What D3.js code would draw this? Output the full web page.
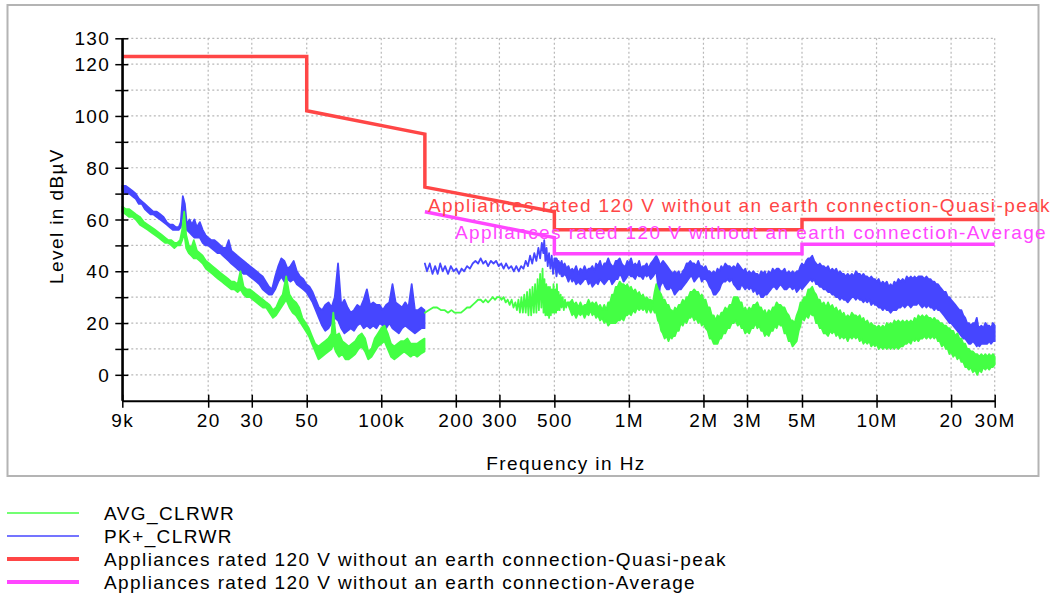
<!DOCTYPE html>
<html>
<head>
<meta charset="utf-8">
<script src="https://cdn.jsdelivr.net/npm/d3@7"></script>
<style>
  html, body { margin: 0; padding: 0; background: #fff; }
  svg text { font-family: "Liberation Sans", Arial, sans-serif; font-size: 19px; letter-spacing: 1.4px; fill: #000; }
</style>
</head>
<body>
<div id="chart"></div>
<script>
// readings: [frequency in kHz, low dBuV, high dBuV] (high omitted = single value)
const avgLow = [
  [9.0,63,65],[9.3,62,64],[9.6,61,64],[9.9,61,63],[10.2,60,62],[10.6,58,61],[11.0,57,59],[11.4,56,58],[11.8,55,57],[12.2,54,56],
  [12.6,53,55],[13.0,52,54],[13.4,51,53],[13.8,51,52],[14.2,50,52],[14.6,49,51],[15.0,50,51],[15.4,50,52],[15.7,52,56],[16.0,55,63],
  [16.3,49,54],[16.7,47,50],[17.1,46,49],[17.5,45,52],[18.0,45,48],[18.5,44,47],[19.0,43,46],[19.6,41,44],[20.2,40,43],[20.8,39,42],
  [21.4,38,41],[22.0,37,40],[22.7,36,39],[23.4,35,38],[24.1,34,37],[24.8,33,36],[25.5,33,36],[26.3,32,35],[27.0,33,40],[27.8,31,34],
  [28.6,30,33],[29.5,30,33],[30.4,29,32],[31.3,28,31],[32.3,27,30],[33.3,26,29],[34.3,26,28],[35.4,24,27],[36.5,22,25],[37.6,23,26],
  [38.8,25,29],[40.0,27,31],[41.3,29,38],[42.6,26,31],[43.9,24,29],[45.2,23,28],[46.6,21,26],[48.0,19,22],[49.5,17,20],[51.0,15,18],
  [52.5,12,15],[54.1,9,12],[55.8,6,11],[57.5,7,12],[59.3,8,13],[61.1,9,14],[63.0,10,16],[64.0,12,24],[65.5,9,15],[67.5,7,16],
  [69.6,8,13],[71.7,6,12],[73.9,6,11],[76.2,7,12],[78.5,8,13],[80.9,10,15],[83.4,11,16],[86.0,9,14],[88.6,6,9],[91.3,7,10],
  [94.1,9,14],[97.0,11,16],[100,12,18],[103,13,19],[106.2,10,16],[109.5,7,12],[112.9,6,11],[116.4,7,12],[120,8,13],[123.7,9,13],
  [127.5,8,14],[131.4,7,12],[135.4,8,12],[139.6,7,12],[143.9,8,13],[149.5,9,14]
];
const pkLow = [
  [9.0,71,73],[9.3,70,73],[9.6,70,72],[9.9,69,71],[10.2,68,70],[10.5,66,68],[10.8,66,67],[11.1,64,66],[11.4,63,65],[11.7,62,64],
  [12.0,62,63],[12.4,61,63],[12.8,60,62],[13.2,59,61],[13.6,58,59],[14.0,57,58],[14.4,56,58],[14.8,56,57],[15.2,56,57],[15.5,57,59],
  [15.8,62,69],[16.1,60,66],[16.4,56,58],[16.8,55,60],[17.2,54,58],[17.6,53,60],[18.0,53,57],[18.5,53,59],[19.0,51,56],[19.5,50,54],
  [20.0,50,53],[20.6,49,52],[21.2,48,52],[21.8,47,51],[22.4,47,50],[23.0,46,49],[23.6,45,49],[24.2,44,52],[24.8,43,48],[25.5,42,47],
  [26.2,41,46],[27.0,40,45],[27.8,39,44],[28.6,39,43],[29.5,38,42],[30.4,37,41],[31.3,36,40],[32.2,35,39],[33.2,33,38],[34.2,32,36],
  [35.2,31,34],[36.2,31,33],[37.3,33,38],[38.4,36,42],[39.5,38,45],[40.6,36,44],[41.8,37,41],[43.0,36,42],[44.3,37,44],[45.6,35,40],
  [47.0,34,38],[48.4,33,37],[49.8,32,35],[51.3,30,34],[52.8,28,32],[54.4,25,29],[56.0,22,26],[57.7,19,25],[59.4,17,27],[61.2,18,28],
  [63.0,20,26],[64.9,22,30],[66.9,21,43],[68.9,18,27],[71.0,16,29],[73.1,17,26],[75.3,18,24],[77.6,17,25],[80.0,19,27],[82.4,20,26],
  [84.9,18,29],[87.5,19,33],[90.1,18,27],[92.8,19,28],[95.6,18,27],[98.5,20,27],[101.5,19,25],[104.6,18,27],[107.8,20,28],[111,18,35],
  [114.3,17,28],[117.8,16,27],[121.3,18,26],[125,19,28],[128.8,18,26],[132.7,17,35],[136.7,16,25],[140.8,17,25],[145,18,26],[149.5,18,25]
];
const avgHigh = [
  [150,24],[156,25],[162,26],[168,26],[174,25],[180,25],[186,24],[192,25],[198,24],[204,24],[210,24],[216,25],[222,26],[228,26],
  [234,27],[240,28],[246,29],[252,29],[258,28],[264,29],[270,28],[276,29],[282,30],[288,29],[294,30],[300,30],[306,29],[312,30],
  [318,28],[324,29],[330,27],[336,29],[342,26],[348,28],[353,25],[358,29],[363,24],[368,30],[373,24],[378,31],[383,24],[388,32],
  [393,23],[398,33],[403,23],[408,34],[413,24],[418,35],[423,24],[428,37],[433,25],[438,39],[443,26],[448,41],[452,24],[456,37],
  [460,23],[464,35],[468,23],[472,34],[476,22],[480,34],[484,23],[488,33],[492,24],[496,35],[500,24],[504,33],[508,24],[512,35],
  [516,25],[520,32],[525,25],[530,31],[535,26],[540,30],[546,25],[552,29],[558,26],[564,28],
  [580,25,28],[590,23,29],[600,24,27],[612,22,28],[625,24,26],[637,23,28],[650,24,26],[662,22,27],[675,24,27],[687,23,29],
  [700,25,27],[712,23,28],[725,24,27],[737,22,28],[750,23,26],[765,21,27],[780,22,25],[795,20,27],[810,21,25],[825,19,28],
  [840,20,28],[855,20,31],[870,20,31],[885,20,34],[900,21,34],[918,21,36],[935,22,35],[952,21,35],[970,23,34],[985,23,35],
  [1000,24,33],[1020,23,34],[1040,25,32],[1060,24,33],[1080,26,31],[1100,25,32],[1120,26,30],[1140,25,31],[1160,26,29],[1180,24,30],
  [1200,26,29],[1225,24,29],[1250,26,28],[1270,24,32],[1290,24,35],[1310,21,33],[1330,20,32],[1350,17,31],[1370,16,29],[1395,14,29],
  [1420,15,27],[1445,13,27],[1470,15,25],[1490,14,25],[1510,15,24],[1535,15,26],[1560,17,25],[1590,17,27],[1620,20,27],[1650,19,29],
  [1680,21,28],[1710,20,30],[1740,22,30],[1770,22,32],[1800,23,32],[1835,21,33],[1870,22,32],[1905,20,32],[1940,21,30],[1970,19,31],
  [2000,20,29],[2040,18,29],[2080,17,26],[2120,14,26],[2160,14,23],[2200,12,23],[2240,12,21],[2280,12,23],[2320,14,22],[2360,14,24],
  [2400,16,24],[2450,16,26],[2500,18,25],[2550,18,27],[2600,20,27],[2650,20,30],[2700,21,30],[2750,19,30],[2800,20,28],[2850,18,28],
  [2900,18,25],[2950,16,26],[3000,17,24],[3060,16,26],[3120,18,25],[3180,18,27],[3240,20,27],[3300,18,28],[3360,19,26],[3420,17,26],
  [3480,17,24],[3540,15,25],[3600,16,23],[3670,15,25],[3740,17,24],[3810,17,26],[3880,19,26],[3950,18,28],[4020,20,27],[4100,19,27],
  [4170,19,26],[4250,16,26],[4330,16,24],[4420,13,23],[4500,13,21],[4580,11,21],[4670,12,20],[4760,13,23],[4850,17,25],[4930,19,28],
  [5000,22,28],[5100,21,30],[5200,23,30],[5300,22,33],[5400,24,33],[5500,23,34],[5600,23,32],[5700,20,31],[5800,20,29],[5900,18,29],
  [6000,18,27],[6120,16,28],[6250,16,26],[6370,15,28],[6500,17,26],[6620,16,27],[6750,17,25],[6870,15,26],[7000,16,24],[7120,14,25],
  [7250,15,23],[7370,14,24],[7500,15,22],[7650,13,23],[7800,15,22],[7950,14,24],[8100,15,23],[8250,14,23],[8400,15,22],[8550,13,23],
  [8700,14,21],[8850,12,22],[9000,13,20],[9170,12,21],[9350,13,19],[9520,11,20],[9700,12,19],[9850,11,19],[10000,12,18],[10200,10,19],
  [10400,11,18],[10600,10,19],[10800,11,18],[11000,10,20],[11200,11,19],[11400,10,20],[11600,11,19],[11800,10,21],[12000,11,20],[12250,10,21],
  [12500,11,20],[12750,11,21],[13000,12,20],[13250,12,21],[13500,13,20],[13750,12,21],[14000,14,20],[14250,13,22],[14500,14,21],[14750,13,23],
  [15000,14,22],[15300,14,23],[15600,15,22],[15900,14,23],[16200,15,22],[16500,14,22],[16800,15,21],[17100,14,22],[17400,15,21],[17700,13,21],
  [18000,13,20],[18350,11,20],[18700,12,19],[19050,10,19],[19400,10,18],[19700,8,18],[20000,9,17],[20400,7,17],[20800,8,15],[21200,6,16],
  [21600,7,14],[22000,5,14],[22400,5,12],[22800,3,12],[23200,3,10],[23600,2,10],[24000,3,9],[24500,1,9],[25000,2,8],[25500,0,8],
  [26000,2,7],[26500,1,8],[27000,3,7],[27500,2,8],[28000,3,7],[28500,2,8],[29000,3,7],[29500,3,8],[30000,4,7]
];
const pkHigh = [
  [150,43],[153,40],[157,43],[161,39],[165,42],[169,39],[173,43],[177,40],[181,42],[186,39],[191,42],[196,40],[201,41],[206,39],
  [211,41],[216,40],[222,42],[228,41],[234,43],[240,44],[246,43],[252,45],[258,43],[264,44],[270,42],[277,44],[284,43],[291,44],
  [298,42],[305,43],[312,41],[319,43],[327,41],[335,42],[343,40],[351,42],[359,40],[367,42],[375,41],[383,44],[391,42],[399,46],
  [407,43],[415,47],[423,44],[431,49],[438,45],[445,51],[451,47],[455,52],[460,44],[465,49],[470,42],[476,47],[482,41],[488,46],
  [494,39],[500,45],
  [510,38,45],[515,41,44],[520,40,44],[525,39,43],[530,40,43],[535,38,44],[540,38,42],[550,39,43],[560,38,41],[570,36,42],
  [580,38,40],[590,36,41],[600,37,40],[612,35,42],[625,36,39],[637,35,41],[650,36,40],[662,37,42],[675,37,40],[687,35,41],
  [700,36,41],[712,34,42],[725,35,40],[737,36,43],[750,35,42],[765,37,44],[780,36,41],[795,35,43],[810,36,43],[825,37,45],
  [840,37,43],[855,35,42],[870,36,42],[885,37,44],[900,37,44],[918,39,45],[935,38,43],[952,36,42],[970,37,42],[985,38,44],
  [1000,39,43],[1020,38,45],[1040,38,42],[1060,37,43],[1080,39,42],[1100,38,44],[1120,38,41],[1140,37,42],[1160,39,42],[1180,38,43],
  [1200,39,41],[1225,37,43],[1250,38,44],[1270,39,45],[1290,40,46],[1305,36,45],[1320,30,44],[1335,34,42],[1350,35,43],[1375,36,44],
  [1400,34,43],[1425,33,42],[1450,33,41],[1475,34,40],[1500,33,39],[1530,31,40],[1560,32,39],[1590,33,40],[1620,33,38],[1650,34,40],
  [1680,35,41],[1710,36,43],[1740,37,43],[1770,38,44],[1800,38,43],[1835,36,43],[1870,37,42],[1905,38,44],[1940,38,42],[1970,36,42],
  [2000,37,41],[2040,37,42],[2080,36,40],[2120,34,40],[2160,33,39],[2200,31,40],[2240,31,39],[2280,32,41],[2320,33,40],[2360,35,42],
  [2400,36,41],[2450,36,43],[2500,37,42],[2550,36,42],[2600,37,41],[2650,35,42],[2700,34,41],[2750,33,43],[2800,33,42],[2850,35,41],
  [2900,34,40],[2950,33,41],[3000,34,39],[3060,33,40],[3120,34,39],[3180,32,40],[3240,33,39],[3300,31,39],[3360,32,38],[3420,30,40],
  [3480,30,39],[3540,31,40],[3600,31,38],[3670,32,40],[3740,33,39],[3810,34,41],[3880,34,40],[3950,33,41],[4020,34,41],[4100,35,40],
  [4170,34,40],[4250,33,41],[4330,33,39],[4420,34,40],[4500,34,39],[4580,33,40],[4670,34,39],[4760,32,40],[4850,33,40],[4930,34,42],
  [5000,33,43],[5100,34,42],[5200,35,44],[5300,36,45],[5400,37,45],[5500,36,46],[5600,37,44],[5700,35,43],[5800,35,42],[5900,34,43],
  [6000,34,42],[6120,33,42],[6250,33,41],[6370,32,42],[6500,32,40],[6620,31,41],[6750,31,40],[6870,30,41],[7000,30,39],[7120,29,40],
  [7250,30,39],[7370,29,39],[7500,29,38],[7650,28,39],[7800,29,38],[7950,30,39],[8100,30,38],[8250,29,40],[8400,30,39],[8550,29,39],
  [8700,29,38],[8850,28,39],[9000,29,38],[9170,28,38],[9350,29,37],[9520,27,38],[9700,28,37],[9850,27,37],[10000,27,36],[10200,26,37],
  [10400,26,35],[10600,25,36],[10800,26,35],[11000,25,36],[11200,25,34],[11400,24,35],[11600,25,34],[11800,25,36],[12000,25,35],[12250,26,37],
  [12500,26,36],[12750,27,37],[13000,26,36],[13250,27,38],[13500,27,37],[13750,26,38],[14000,27,37],[14250,27,38],[14500,27,37],[14750,28,38],
  [15000,27,38],[15300,26,38],[15600,27,37],[15900,26,38],[16200,27,37],[16500,26,37],[16800,26,36],[17100,25,36],[17400,26,35],[17700,25,35],
  [18000,25,34],[18350,24,33],[18700,23,32],[19050,22,32],[19400,21,30],[19700,20,30],[20000,20,29],[20400,19,28],[20800,18,27],[21200,17,26],
  [21600,16,25],[22000,15,25],[22400,14,23],[22800,14,22],[23200,13,20],[23600,12,20],[24000,12,19],[24500,13,20],[25000,12,20],[25400,11,22],
  [25700,12,19],[26000,11,18],[26500,12,19],[27000,12,18],[27500,12,20],[28000,12,19],[28500,13,19],[29000,12,18],[29500,13,20],[30000,13,19]
];

// limit lines: [frequency in kHz, dBuV]
const limitQP = [[9,123],[50,123],[50,102],[150,93],[150,72.5],[500,63],[500,56],[5000,56],[5000,60],[30000,60]];
const limitAV = [[150,63],[500,53],[500,46.8],[5000,46.8],[5000,50.4],[30000,50.4]];

const xTicks = [9e3,2e4,3e4,5e4,1e5,2e5,3e5,5e5,1e6,2e6,3e6,5e6,1e7,2e7,3e7];
const xTickLabels = ["9k","20","30","50","100k","200","300","500","1M","2M","3M","5M","10M","20","30M"];
const yTicks = [0,10,20,30,40,50,60,70,80,90,100,110,120,130];
const yTickLabels = [0,20,40,60,80,100,120,130];

const qpName = "Appliances rated 120 V without an earth connection-Quasi-peak";
const avName = "Appliances rated 120 V without an earth connection-Average";
const legendItems = [
  { name: "AVG_CLRWR", color: "#44ff44", width: 1.5 },
  { name: "PK+_CLRWR", color: "#4646ff", width: 1.5 },
  { name: qpName, color: "#ff4646", width: 4 },
  { name: avName, color: "#ff46ff", width: 4 }
];

const W = 1054, H = 598;
const svg = d3.select("#chart").append("svg").attr("width", W).attr("height", H);

const x = d3.scaleLog().domain([9e3, 30e6]).range([122.3, 994.7]);
const y = d3.scaleLinear().domain([-10, 130]).range([400.7, 38.3]);

// frame
svg.append("rect").attr("x", 7.5).attr("y", 5).attr("width", 1031).attr("height", 471)
  .attr("fill", "none").attr("stroke", "#b4b4b4").attr("stroke-width", 2);

// grid
const grid = svg.append("g");
grid.selectAll("line.h").data(yTicks).join("line").attr("class", "h")
  .attr("x1", x(9e3)).attr("x2", x(3e7)).attr("y1", d => y(d)).attr("y2", d => y(d));
grid.selectAll("line.v").data(xTicks.slice(1)).join("line").attr("class", "v")
  .attr("x1", d => x(d)).attr("x2", d => x(d)).attr("y1", y(130)).attr("y2", y(-10));
grid.selectAll("line").attr("stroke", "#b8b8b8").attr("stroke-width", 1.2).attr("stroke-dasharray", "2,2.5");

// traces
const band = d3.area()
  .x(d => x(d[0] * 1e3))
  .y0(d => y(d[1]))
  .y1(d => y(d.length > 2 ? d[2] : d[1]));
const traces = svg.append("g");
[[pkLow, "#4646ff"], [pkHigh, "#4646ff"], [avgLow, "#44ff44"], [avgHigh, "#44ff44"]].forEach(([data, col]) => {
  traces.append("path").attr("d", band(data))
    .attr("fill", col).attr("stroke", col).attr("stroke-width", 1.8).attr("stroke-linejoin", "round");
});

// limits
const lim = d3.line().x(d => x(d[0] * 1e3)).y(d => y(d[1]));
svg.append("path").attr("d", lim(limitQP)).attr("fill", "none").attr("stroke", "#ff4646").attr("stroke-width", 3.5);
svg.append("path").attr("d", lim(limitAV)).attr("fill", "none").attr("stroke", "#ff46ff").attr("stroke-width", 3.5);

svg.append("text").attr("x", 428).attr("y", 212).style("fill", "#ff4646").text(qpName);
svg.append("text").attr("x", 455).attr("y", 238.5).style("fill", "#ff46ff").text(avName);

// axes
const xAxis = svg.append("g").attr("transform", `translate(0,${y(-10)})`)
  .call(d3.axisBottom(x).tickValues(xTicks).tickSize(7).tickSizeOuter(0)
    .tickFormat((d, i) => xTickLabels[i]));
xAxis.selectAll(".tick line").attr("y1", -6).attr("stroke-width", 1.5);
xAxis.selectAll(".tick text").attr("y", 26).attr("dy", 0).attr("font-size", null).attr("font-family", null);
xAxis.select(".domain").attr("stroke-width", 2);

const yAxis = svg.append("g").attr("transform", `translate(${x(9e3)},0)`)
  .call(d3.axisLeft(y).tickValues(yTicks).tickSize(7).tickSizeOuter(0)
    .tickFormat(d => yTickLabels.includes(d) ? d : ""));
yAxis.selectAll(".tick line").attr("x1", 6).attr("stroke-width", 1.5);
yAxis.selectAll(".tick text").attr("x", -12).attr("dy", "0.35em").attr("font-size", null).attr("font-family", null);
yAxis.select(".domain").attr("stroke-width", 2);
yAxis.append("line").attr("x1", 0).attr("x2", 0).attr("y1", y(-10)).attr("y2", y(130)).attr("stroke", "#000").attr("stroke-width", 2);

svg.append("text").attr("x", 566).attr("y", 470).attr("text-anchor", "middle").text("Frequency in Hz");
svg.append("text").attr("transform", "translate(63,216) rotate(-90)").attr("text-anchor", "middle").text("Level in dBµV");

// legend
const leg = svg.append("g").selectAll("g").data(legendItems).join("g")
  .attr("transform", (d, i) => `translate(0,${513 + i * 23})`);
leg.append("line").attr("x1", 7).attr("x2", 79).attr("stroke", d => d.color).attr("stroke-width", d => d.width);
leg.append("text").attr("x", 104).attr("y", 7).text(d => d.name);
</script>
</body>
</html>
